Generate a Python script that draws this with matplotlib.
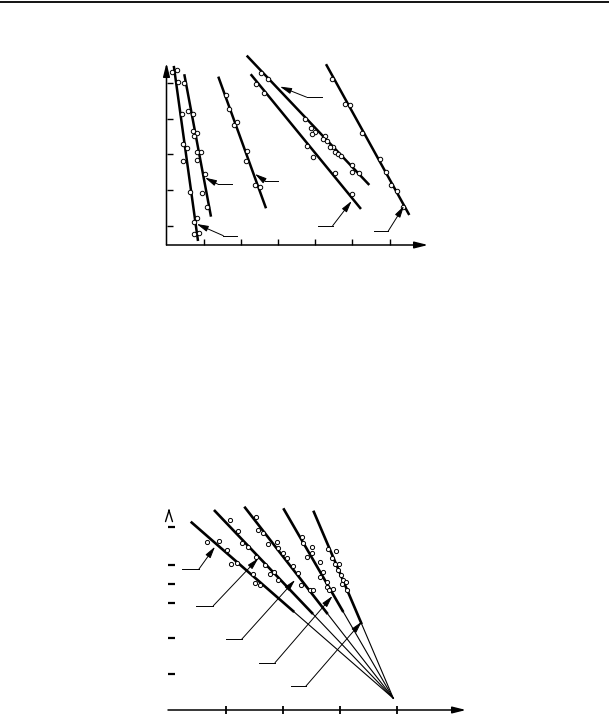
import numpy as np
import matplotlib
matplotlib.use("Agg")
import matplotlib.pyplot as plt
from matplotlib.lines import Line2D

# ---- top chart: six fitted lines with measured points ----
top_lines = {
    "A": [(1.96, 54.69), (8.47, 5.81)],
    "B": [(4.78, 52.37), (11.96, 12.60)],
    "C": [(13.92, 51.70), (26.75, 14.94)],
    "D": [(21.56, 57.57), (54.52, 21.45)],
    "E": [(22.63, 52.37), (52.28, 14.75)],
    "F": [(42.88, 55.17), (65.27, 13.07)],
}
top_pts_x = {
    "A": [1.61, 2.74, 3.17, 4.09, 4.52, 5.51, 4.52, 6.32, 7.45, 8.28, 7.45, 8.74],
    "B": [4.78, 5.86, 7.04, 7.04, 8.12, 7.31, 8.28, 9.22, 8.33, 10.35, 9.62, 10.97],
    "C": [15.99, 16.88, 18.04, 18.87, 21.64, 21.37, 23.79, 25.05],
    "D": [25.40, 27.37, 37.15, 38.92, 40.05, 39.19, 42.61, 42.15, 43.06, 44.84,
          43.87, 45.30, 46.18, 46.91, 49.92, 49.87, 51.69],
    "E": [24.06, 26.29, 37.69, 39.46, 45.30, 49.92],
    "F": [44.41, 47.98, 49.33, 52.47, 57.39, 59.01, 60.27, 62.04, 63.49],
}
top_pts_y = {
    "A": [52.88, 53.49, 50.22, 41.15, 32.99, 31.87, 28.21, 19.58, 11.06, 12.15, 7.71, 8.04],
    "B": [49.86, 42.04, 41.37, 36.45, 35.98, 35.06, 30.75, 30.59, 28.35, 24.44, 19.27, 15.39],
    "C": [46.51, 42.60, 38.21, 39.13, 30.89, 28.24, 21.54, 20.81],
    "D": [52.65, 50.98, 39.89, 37.29, 36.34, 35.70, 35.14, 34.36, 33.83, 32.15,
          31.93, 30.75, 30.06, 29.55, 27.04, 25.17, 24.89],
    "E": [49.58, 47.07, 32.43, 29.36, 24.72, 18.85],
    "F": [50.98, 44.08, 43.80, 36.06, 28.72, 25.0, 21.45, 19.86, 15.39],
}
# leader lines: (arrow tip, elbow, free end)
top_leaders = [
    [(8.12, 10.56), (15.27, 7.29), (18.87, 7.29)],
    [(10.35, 23.49), (13.84, 21.65), (17.53, 21.65)],
    [(23.79, 24.53), (26.48, 22.57), (30.05, 22.57)],
    [(30.51, 48.91), (37.69, 45.95), (41.72, 45.95)],
    [(49.78, 16.98), (44.68, 10.08), (40.81, 10.08)],
    [(63.84, 15.59), (59.62, 8.60), (55.86, 8.60)],
]
top_xticks = [10, 20, 30, 40, 50, 60]
top_yticks = [10, 20, 30, 40, 50]

# ---- bottom chart: five lines through a common point ----
bot_focus = (39.35, 3.21)
bot_starts = [(3.81, 51.59), (7.89, 54.79), (13.21, 55.70), (20.05, 55.26), (25.32, 54.60)]
bot_thick_ends = [(21.96, 26.85), (25.26, 26.30), (27.84, 26.30), (30.58, 26.85), (33.81, 23.51)]
bot_pts_x = [6.61, 8.77, 10.12, 10.82, 11.88,
             10.70, 12.02, 12.89, 13.91, 15.21, 14.68, 15.09, 15.96,
             15.26, 15.67, 16.54, 17.42, 19.0, 19.18, 19.95, 20.65, 21.81, 16.89,
             17.72, 18.47, 19.18, 22.68, 23.11, 24.74, 25.32,
             23.28, 23.51, 25.04, 24.21, 25.14, 26.49, 26.93, 26.54, 27.67, 27.77,
             28.12, 28.72,
             27.84, 29.21, 28.54, 29.04, 29.88, 29.70, 30.12, 30.58, 30.30, 31.05, 31.28]
bot_pts_y = [46.11, 46.38, 43.92, 39.92, 40.19,
             52.05, 48.96, 45.67, 44.74, 41.84, 37.26, 34.71, 34.25,
             52.96, 49.32, 48.41, 45.40, 46.11, 44.47, 42.93, 41.56, 39.53, 39.73,
             37.18, 37.89, 35.62, 37.45, 34.25, 32.88, 32.88,
             47.53, 45.67, 44.52, 42.0, 42.93, 40.55, 37.81, 36.52, 35.15, 33.78,
             32.79, 33.15,
             44.03, 43.62, 41.56, 39.86, 39.92, 38.36, 36.85, 35.62, 34.52, 34.93, 32.88]
bot_leaders = [
    [(8.07, 44.74), (5.26, 38.63), (2.33, 38.63)],
    [(15.67, 41.56), (7.77, 28.55), (4.79, 28.55)],
    [(22.11, 35.62), (12.75, 19.37), (10.0, 19.37)],
    [(28.68, 31.23), (18.60, 12.96), (15.84, 12.96)],
    [(33.81, 24.19), (24.04, 6.58), (21.35, 6.58)],
]
bot_xticks = [10, 20, 30, 40]
bot_yticks = [9.9, 19.8, 29.2, 34.4, 39.6, 50.1]

W, H = 609, 716
fig = plt.figure(figsize=(W / 100, H / 100), dpi=100)

# rule across the page top
fig.add_artist(Line2D([0, 1], [1 - 2 / H, 1 - 2 / H], color="black", lw=1.3))


def leader(ax, tip, elbow, end):
    ax.plot([end[0], elbow[0]], [end[1], elbow[1]], color="black", lw=0.7, clip_on=False)
    ax.annotate("", xy=tip, xytext=elbow, annotation_clip=False,
                arrowprops=dict(arrowstyle="-|>,head_length=0.7,head_width=0.18",
                                lw=0.7, color="black", shrinkA=0, shrinkB=0,
                                mutation_scale=10))


def axis_arrow(ax, start, stop, style="-|>,head_length=0.8,head_width=0.2"):
    ax.annotate("", xy=stop, xytext=start, xycoords="axes fraction",
                annotation_clip=False,
                arrowprops=dict(arrowstyle=style, lw=1.1, color="black",
                                shrinkA=0, shrinkB=0, mutation_scale=10))


# top chart
ax1 = fig.add_axes([166.5 / W, 1 - 245 / H, (428 - 166.5) / W, (245 - 63) / H])
ax1.set_xlim(0, 70.3)
ax1.set_ylim(4.69, 55.5)
for s in ax1.spines.values():
    s.set_visible(False)
axis_arrow(ax1, (0, 0), (0, 1))
axis_arrow(ax1, (0, 0), (1, 0))
ax1.set_xticks(top_xticks)
ax1.set_yticks(top_yticks)
ax1.tick_params(direction="in", length=4.5, width=1.0, labelleft=False, labelbottom=False)

for key, ((x0, y0), (x1, y1)) in top_lines.items():
    ax1.plot([x0, x1], [y0, y1], color="black", lw=1.8, clip_on=False, solid_capstyle="butt")
    ax1.plot(top_pts_x[key], top_pts_y[key], "o", ms=3.2, mfc="white", mec="black",
             mew=0.7, clip_on=False)
for tip, elbow, end in top_leaders:
    leader(ax1, tip, elbow, end)

# bottom chart
ax2 = fig.add_axes([168 / W, 1 - 710 / H, (466 - 168) / W, (710 - 505) / H])
ax2.set_xlim(-0.175, 52.1)
ax2.set_ylim(0, 56.16)
for s in ax2.spines.values():
    s.set_visible(False)
axis_arrow(ax2, (0, 0), (1, 0))
ax2.annotate("", xy=(0, 55.3), xytext=(0, 54.2), annotation_clip=False,
             arrowprops=dict(arrowstyle="->,head_length=0.8,head_width=0.25", lw=1.0,
                             color="black", shrinkA=0, shrinkB=0, mutation_scale=10))
ax2.set_xticks(bot_xticks)
ax2.set_yticks(bot_yticks)
ax2.tick_params(axis="x", direction="inout", length=6, width=1.3, labelbottom=False)
ax2.tick_params(axis="y", direction="in", length=5, width=1.6, labelleft=False)

for (sx, sy), (ex, ey) in zip(bot_starts, bot_thick_ends):
    ax2.plot([sx, ex], [sy, ey], color="black", lw=1.9, clip_on=False, solid_capstyle="butt")
    ax2.plot([ex, bot_focus[0]], [ey, bot_focus[1]], color="black", lw=0.8, clip_on=False)
ax2.plot(bot_pts_x, bot_pts_y, "o", ms=3.0, mfc="white", mec="black", mew=0.7, clip_on=False)
for tip, elbow, end in bot_leaders:
    leader(ax2, tip, elbow, end)

fig.savefig("out.png", dpi=100)
